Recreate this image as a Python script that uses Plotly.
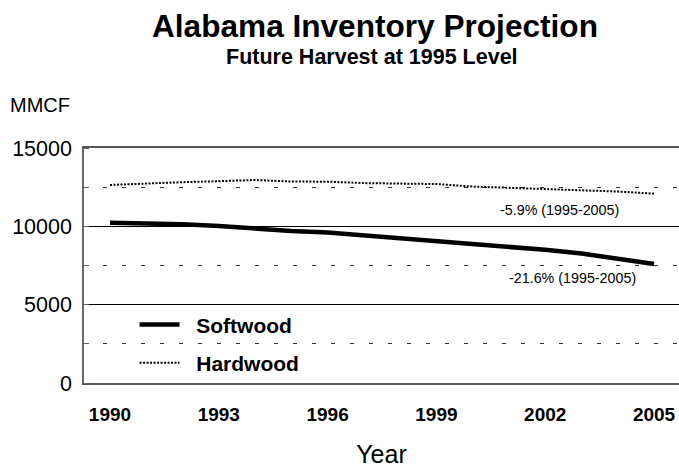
import plotly.graph_objects as go

# Projected growing-stock inventory, million cubic feet, harvest held at 1995 level
years = list(range(1990, 2006))
softwood = [10230, 10220, 10140, 10020, 9850, 9700, 9600, 9420,
            9230, 9020, 8890, 8700, 8500, 8270, 7950, 7590]
hardwood = [12640, 12740, 12820, 12880, 12960, 12860, 12850, 12760,
            12750, 12700, 12540, 12460, 12390, 12310, 12220, 12090]

x_ticks = [1990, 1993, 1996, 1999, 2002, 2005]
y_ticks = [0, 5000, 10000, 15000]

soft_change = "-21.6% (1995-2005)"
hard_change = "-5.9% (1995-2005)"

FONT = "Liberation Sans, Arial, sans-serif"
PAD = "\u00a0\u00a0"  # extra room between legend sample and label

fig = go.Figure()
fig.add_trace(go.Scatter(
    x=years, y=softwood, name=PAD + "Softwood", mode="lines",
    line=dict(color="black", width=4.5), legendgroup="s",
))
fig.add_trace(go.Scatter(
    x=years, y=hardwood, name=PAD + "Hardwood", mode="lines",
    line=dict(color="black", width=2, dash="2px,1.5px"), legendgroup="h",
))

fig.update_layout(
    width=679, height=472,
    margin=dict(l=84, r=0, t=148, b=89),
    plot_bgcolor="white", paper_bgcolor="white",
    font=dict(family=FONT, color="black"),
    showlegend=True,
    legend=dict(
        x=0.085, y=0.335, xanchor="left", yanchor="top",
        bgcolor="rgba(0,0,0,0)", borderwidth=0,
        font=dict(size=21, family=FONT, color="black", weight="bold"),
        tracegroupgap=8, itemwidth=40,
    ),
    annotations=[
        dict(text="<b>Alabama Inventory Projection</b>", xref="paper", yref="paper",
             x=(375 - 84) / 595, y=(383 - 26) / 235, showarrow=False,
             font=dict(size=31.6, family=FONT), xanchor="center", yanchor="middle"),
        dict(text="<b>Future Harvest at 1995 Level</b>", xref="paper", yref="paper",
             x=(372 - 84) / 595, y=(383 - 57) / 235, showarrow=False,
             font=dict(size=21.5, family=FONT), xanchor="center", yanchor="middle"),
        dict(text="MMCF", xref="paper", yref="paper",
             x=(8 - 84) / 595, y=(383 - 105) / 235, showarrow=False,
             font=dict(size=20, family=FONT), xanchor="left", yanchor="middle"),
        dict(text=hard_change, xref="x", yref="y", x=2002.38, y=11040,
             showarrow=False, font=dict(size=14.3, family=FONT),
             xanchor="center", yanchor="middle"),
        dict(text=soft_change, xref="x", yref="y", x=2002.74, y=6700,
             showarrow=False, font=dict(size=14.3, family=FONT),
             xanchor="center", yanchor="middle"),
    ],
)

fig.update_xaxes(
    range=[1989.283, 2005.688],
    tickmode="array", tickvals=x_ticks, ticktext=[str(v) for v in x_ticks],
    tickfont=dict(size=19, family=FONT, weight="bold"),
    showgrid=False, zeroline=False, ticks="",
    showline=True, linecolor="#555", linewidth=2, mirror=True,
    ticklabelstandoff=13,
    title=dict(text="Year", font=dict(size=25, family=FONT), standoff=22),
)
fig.update_yaxes(
    range=[0, 15000],
    tickmode="array", tickvals=y_ticks, ticktext=[str(v) for v in y_ticks],
    tickfont=dict(size=21.5, family=FONT),
    showgrid=True, gridcolor="black", gridwidth=1, zeroline=False,
    showline=True, linecolor="#666", linewidth=1.5, ticks="",
    ticklabelstandoff=6,
    minor=dict(dtick=2500, tick0=0, showgrid=True, gridcolor="#333",
               gridwidth=1, griddash="4px,15px", ticks="inside", ticklen=5,
               tickcolor="#666"),
)

fig.write_html("out.html")
